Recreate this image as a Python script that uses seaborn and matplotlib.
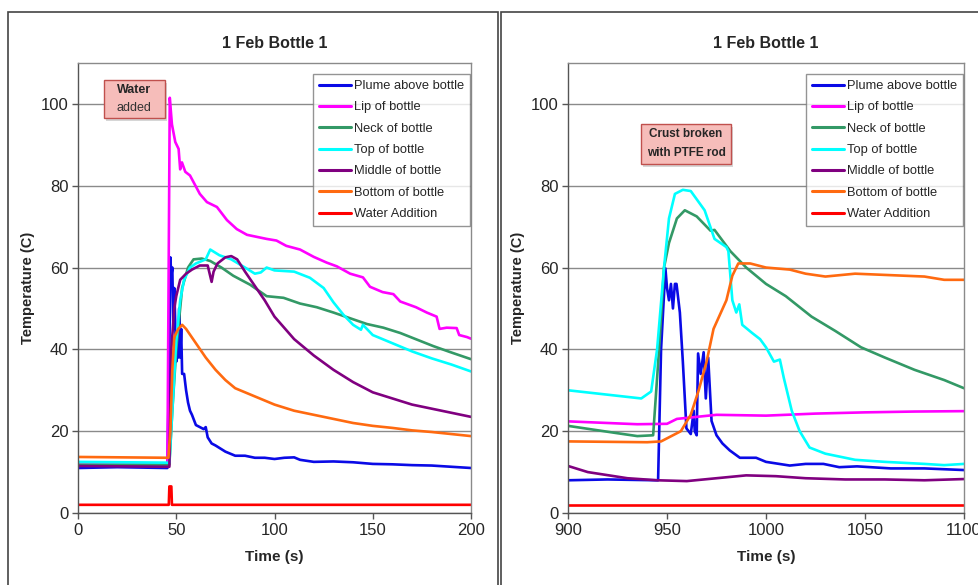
import pandas as pd
import numpy as np
import seaborn as sns
from matplotlib import pyplot as plt
from matplotlib.patches import Rectangle

# series names and colours
names = ['Plume above bottle', 'Lip of bottle', 'Neck of bottle', 'Top of bottle',
         'Middle of bottle', 'Bottom of bottle', 'Water Addition']
colors = ['#0A0AE6', '#FF00FF', '#339966', '#00FFFF', '#800080', '#FF6A10', '#FF0000']

# ---- left panel: 0-200 s ----
plume_t = [0, 20, 45.5, 46.5, 47, 47.5, 48, 48.5, 49, 50, 50.5, 51, 51.5, 52, 52.5, 53, 54, 55, 56, 57, 58,
           60, 62, 64, 65, 66, 68, 70, 75, 80, 85, 90, 95, 100, 105, 110, 113, 120, 130, 140, 150, 160,
           170, 180, 190, 200]
plume_v = [11, 11.2, 11, 40, 62.5, 58, 60, 45, 55, 37, 42, 38, 50, 38, 45, 34, 34, 30, 27, 25, 24,
           21.5, 21, 20.5, 21, 18.5, 17, 16.5, 15, 14, 14, 13.5, 13.5, 13.2, 13.5, 13.6, 13, 12.5, 12.6,
           12.4, 12, 11.9, 11.7, 11.6, 11.3, 11]

lip_t = [0, 45.5, 46.7, 47.8, 49.5, 51.2, 52, 52.9, 54.6, 57, 62, 65.6, 70.7, 75.8, 80.8, 86, 91, 96, 101,
         106, 113, 120, 126.6, 131.7, 138.5, 145, 148.6, 155, 160.5, 164, 172, 177.5, 182.5, 184, 187.6,
         192.7, 194, 198, 200]
lip_v = [11.8, 11.8, 101.5, 95, 90.7, 89, 84, 85.7, 83.4, 82.5, 78, 76, 74.8, 71.6, 69.4, 68, 67.5, 67, 66.6,
         65.3, 64.4, 62.6, 61.2, 60.3, 58.5, 57.6, 55.3, 54, 53.5, 51.7, 50.3, 49, 48, 45, 45.3,
         45.2, 43.5, 43, 42.6]

neck_t = [0, 46.5, 48, 50, 53, 56, 58.8, 63, 67.3, 73, 79, 87.6, 96, 104.6, 113, 121.5, 130, 138.5, 147,
          155.4, 164, 172.4, 180.8, 189, 200]
neck_v = [11.8, 11.8, 25, 40, 55, 60, 62, 62.2, 61.6, 60, 58, 55.8, 53, 52.6, 51.2, 50.3, 49, 47.6, 46.2,
          45.3, 44, 42.4, 40.8, 39.4, 37.6]

top_t = [0, 46.5, 48, 50, 52, 54, 57, 60, 65, 67.3, 72, 78, 85, 90, 93, 96, 100, 110, 118, 125, 130, 135,
         140, 144, 145, 150, 160, 170, 180, 190, 200]
top_v = [12.5, 12.3, 25, 42, 52, 57, 60, 61, 62, 64.4, 63, 62, 60, 58.5, 58.8, 60, 59.3, 59, 57.5, 55,
         51.5, 48.5, 46, 44.8, 46, 43.5, 41.5, 39.5, 37.8, 36.3, 34.6]

mid_t = [0, 46.5, 47.5, 49, 50, 52, 55, 58, 62, 66, 68, 69, 71, 75, 78, 81, 85, 90, 95, 100, 110, 120,
         130, 140, 150, 160, 170, 180, 190, 200]
mid_v = [11.5, 11.3, 40, 50, 53, 57, 58.5, 59.5, 60.5, 60.5, 56.5, 59, 61, 62.5, 62.8, 62, 59, 55.5, 52,
         48, 42.5, 38.5, 35, 32, 29.5, 28, 26.5, 25.5, 24.5, 23.5]

bot_t = [0, 46, 47, 48, 49, 51, 53, 55, 60, 65, 70, 75, 80, 90, 100, 110, 120, 130, 140, 150, 160, 170,
         180, 190, 200]
bot_v = [13.7, 13.5, 20, 35, 43, 45, 46, 45, 41.5, 38, 35, 32.5, 30.5, 28.5, 26.5, 25, 24, 23, 22, 21.3,
         20.8, 20.2, 19.8, 19.3, 18.8]

water_t = [0, 46.2, 46.5, 47.5, 47.8, 200]
water_v = [2, 2, 6.5, 6.5, 2, 2]

# ---- right panel: 900-1100 s ----
plume2_t = [900, 920, 944.5, 945.5, 947, 949.2, 950, 951, 952, 953, 954, 954.8, 956.5, 958, 959, 959.8,
            962, 963.5, 964, 965, 965.7, 967, 968.5, 969.6, 970.8, 972.5, 975, 978, 981.7, 986.8, 995,
            1000, 1012, 1020, 1029, 1037, 1046, 1063, 1080, 1100]
plume2_v = [8, 8.2, 8, 8, 40, 59.8, 55, 52, 56, 50, 56, 56, 49, 37, 28, 20.7, 19.3, 25, 20, 19, 39, 34,
            39.3, 28, 38, 22.5, 19, 17, 15.3, 13.5, 13.5, 12.5, 11.6, 12, 12, 11.2, 11.4, 10.9, 10.9, 10.5]

lip2_t = [900, 935, 950, 955, 965, 975, 1000, 1025, 1050, 1075, 1100]
lip2_v = [22.4, 21.7, 21.8, 23, 23.5, 24, 23.8, 24.3, 24.6, 24.8, 24.9]

neck2_t = [900, 925, 935, 943, 946, 948.5, 951, 955, 959, 965, 972, 974, 982, 990, 1000, 1010, 1023, 1035,
           1048, 1060, 1075, 1090, 1100]
neck2_v = [21.3, 19.5, 18.8, 19, 40, 60, 66, 72, 74, 72.5, 69, 69.2, 64, 60, 56, 53, 48, 44.5, 40.5, 38,
           35, 32.5, 30.5]

top2_t = [900, 937, 942, 945, 948.5, 951, 954, 958, 962, 969, 974, 980, 981, 983, 985, 986.5, 988, 993,
          997, 1000, 1004, 1007, 1009, 1013, 1017, 1022, 1030, 1045, 1060, 1080, 1090, 1100]
top2_v = [30, 28, 29.7, 40, 60, 72, 78, 79, 78.7, 74, 67, 65, 64, 52, 49, 51, 46, 44, 42.5, 40.5, 37,
          37.5, 33, 25, 20, 16, 14.5, 13, 12.5, 12, 11.7, 12]

mid2_t = [900, 910, 930, 945, 960, 975, 990, 1005, 1020, 1040, 1060, 1080, 1100]
mid2_v = [11.5, 10, 8.5, 8, 7.8, 8.5, 9.2, 9, 8.5, 8.2, 8.2, 8, 8.3]

bot2_t = [900, 940, 947, 957, 962, 966, 970, 973.5, 980, 983, 986, 992, 1000, 1012, 1020, 1030, 1045,
          1055, 1070, 1080, 1090, 1100]
bot2_v = [17.5, 17.3, 17.5, 20, 24, 30, 37, 45, 52, 58, 61, 61, 60, 59.5, 58.5, 57.8, 58.5, 58.3, 58,
          57.8, 57, 57]

water2_t = [900, 1100]
water2_v = [2, 2]


def long_df(series):
    frames = []
    for name, t, v in series:
        frames.append(pd.DataFrame({'Time': t, 'Temp': v, 'Series': name}))
    return pd.concat(frames, ignore_index=True)


left = long_df(zip(names, [plume_t, lip_t, neck_t, top_t, mid_t, bot_t, water_t],
                   [plume_v, lip_v, neck_v, top_v, mid_v, bot_v, water_v]))
right = long_df(zip(names, [plume2_t, lip2_t, neck2_t, top2_t, mid2_t, bot2_t, water2_t],
                    [plume2_v, lip2_v, neck2_v, top2_v, mid2_v, bot2_v, water2_v]))

sns.set_style('white')
plt.rcParams['font.family'] = ['Liberation Sans', 'DejaVu Sans']

fig = plt.figure(figsize=(9.79, 5.85), dpi=100)
W, H = 979, 585
ax1 = fig.add_axes([78 / W, 1 - 513 / H, 393 / W, 450 / H])
ax2 = fig.add_axes([568 / W, 1 - 513 / H, 396 / W, 450 / H])

# outer chart frames
fig.patches.append(Rectangle((8 / W, -0.1), 490 / W, 1.1 - 12 / H, transform=fig.transFigure,
                             fill=False, edgecolor='#444444', lw=1.2))
fig.patches.append(Rectangle((501 / W, -0.1), 0.6, 1.1 - 12 / H, transform=fig.transFigure,
                             fill=False, edgecolor='#444444', lw=1.2))

palette = dict(zip(names, colors))
for ax, df, xl, xt in [(ax1, left, (0, 200), [0, 50, 100, 150, 200]),
                       (ax2, right, (900, 1100), [900, 950, 1000, 1050, 1100])]:
    sns.lineplot(data=df, x='Time', y='Temp', hue='Series', palette=palette, hue_order=names,
                 estimator=None, sort=False, lw=1.9, ax=ax)
    ax.set_xlim(*xl)
    ax.set_ylim(0, 110)
    ax.set_xticks(xt)
    ax.set_yticks([0, 20, 40, 60, 80, 100])
    ax.yaxis.grid(True, color='#8a8a8a', lw=1.0)
    ax.set_axisbelow(True)
    for s in ax.spines.values():
        s.set_color('#8a8a8a')
        s.set_linewidth(1.0)
    ax.spines['left'].set_color('#555555')
    ax.spines['bottom'].set_color('#555555')
    ax.tick_params(axis='both', labelsize=12, direction='out', length=4, width=1,
                   color='#555555', pad=3, left=True, bottom=True)
    ax.set_xlabel('Time (s)', fontsize=11, fontweight='bold', labelpad=9)
    ax.set_ylabel('Temperature (C)', fontsize=10.5, fontweight='bold', labelpad=4)
    ax.set_title('1 Feb Bottle 1', fontsize=11.5, fontweight='bold', pad=11)
    leg = ax.legend(loc='upper right', bbox_to_anchor=(0.997, 0.975), fontsize=9.3, fancybox=False,
                    frameon=True, handlelength=2.5, handletextpad=0.2, labelspacing=0.72,
                    borderpad=0.45, borderaxespad=0)
    leg.set_title(None)
    leg.get_frame().set_edgecolor('#7a7a7a')
    leg.get_frame().set_linewidth(1.0)
    for h in leg.get_lines():
        h.set_linewidth(2.2)


def note_box(ax, x0, x1, y0, y1):
    a, b = ax.get_xlim()
    dx = (b - a) / 200 * 0.8
    ax.add_patch(Rectangle((x0 + dx, y0 - 0.8), x1 - x0, y1 - y0,
                           facecolor='#bbbbbb', edgecolor='none', alpha=0.6, zorder=4))
    ax.add_patch(Rectangle((x0, y0), x1 - x0, y1 - y0, facecolor='#F6BDBA',
                           edgecolor='#C0504D', lw=1.0, zorder=5))


# annotation boxes
note_box(ax1, 13.2, 44.3, 96.6, 105.9)
ax1.text(28.7, 103.4, 'Water', ha='center', va='center', fontsize=9, fontweight='bold', zorder=6)
ax1.text(28.7, 99.0, 'added', ha='center', va='center', fontsize=9, color='#333333', zorder=6)

note_box(ax2, 936.9, 982.3, 85.3, 95.1)
ax2.text(959.6, 92.6, 'Crust broken', ha='center', va='center', fontsize=8.5, fontweight='bold', zorder=6)
ax2.text(959.6, 88.0, 'with PTFE rod', ha='center', va='center', fontsize=8.5, fontweight='bold', zorder=6)

plt.savefig('out.png', dpi=100)
